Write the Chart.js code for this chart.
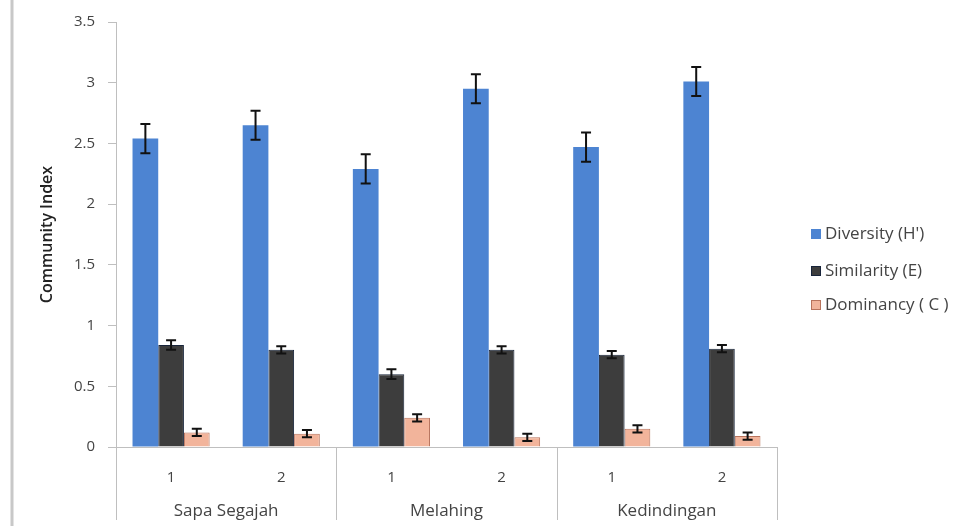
<!DOCTYPE html>
<html lang="en">
  <head>
    <meta charset="UTF-8" />
    <title>Community Index</title>
    <style>
      * {
        margin: 0;
        padding: 0;
      }
      body {
        background: white;
      }
      .chartBox {
        width: 956px;
        height: 526px;
      }
    </style>
  </head>
  <body>
    <div class="chartBox">
      <canvas id="myChart" width="956" height="526"></canvas>
    </div>

    <script src="https://cdn.jsdelivr.net/npm/chart.js"></script>
    <script>
      const sites = ["1", "2", "1", "2", "1", "2"];
      const groups = ["Sapa Segajah", "Melahing", "Kedindingan"];
      const diversity = [2.54, 2.65, 2.29, 2.95, 2.47, 3.01];
      const diversityErr = [0.12, 0.12, 0.12, 0.12, 0.12, 0.12];
      const similarity = [0.84, 0.8, 0.6, 0.8, 0.76, 0.81];
      const similarityErr = [0.04, 0.03, 0.04, 0.03, 0.03, 0.03];
      const dominancy = [0.12, 0.11, 0.24, 0.08, 0.15, 0.09];
      const dominancyErr = [0.03, 0.03, 0.03, 0.03, 0.03, 0.03];
      const yTicks = [0, 0.5, 1, 1.5, 2, 2.5, 3, 3.5];

      const font = "'Open Sans', sans-serif";
      const textColor = "#444";
      const lineColor = "#bfbfbf";

      // error bars, group labels, frame and legend
      const extras = {
        id: "extras",
        beforeDraw(chart) {
          const ctx = chart.ctx;
          ctx.save();
          ctx.strokeStyle = "#c8c8c8";
          ctx.lineWidth = 3;
          ctx.beginPath();
          ctx.moveTo(12, 0);
          ctx.lineTo(12, chart.height);
          ctx.stroke();
          ctx.restore();
        },
        afterDatasetsDraw(chart) {
          const ctx = chart.ctx;
          const y = chart.scales.y;
          ctx.save();
          ctx.strokeStyle = "#111";
          ctx.lineWidth = 2;
          chart.data.datasets.forEach((ds, i) => {
            const meta = chart.getDatasetMeta(i);
            meta.data.forEach((bar, j) => {
              const v = ds.data[j];
              const e = ds.errors[j];
              const top = y.getPixelForValue(v + e);
              const bot = y.getPixelForValue(v - e);
              ctx.beginPath();
              ctx.moveTo(bar.x, top);
              ctx.lineTo(bar.x, bot);
              ctx.moveTo(bar.x - 5, top);
              ctx.lineTo(bar.x + 5, top);
              ctx.moveTo(bar.x - 5, bot);
              ctx.lineTo(bar.x + 5, bot);
              ctx.stroke();
            });
          });
          ctx.restore();
        },
        afterDraw(chart) {
          const ctx = chart.ctx;
          const x = chart.scales.x;
          const area = chart.chartArea;
          const step = x.getPixelForValue(1) - x.getPixelForValue(0);
          ctx.save();
          ctx.strokeStyle = lineColor;
          ctx.lineWidth = 1;
          for (let g = 0; g <= groups.length; g++) {
            const px = Math.round(x.getPixelForValue(g * 2) - step / 2) + 0.5;
            ctx.beginPath();
            ctx.moveTo(px, area.bottom);
            ctx.lineTo(px, chart.height - 6);
            ctx.stroke();
          }
          ctx.fillStyle = textColor;
          ctx.font = "17px " + font;
          ctx.textAlign = "center";
          ctx.textBaseline = "middle";
          groups.forEach((name, g) => {
            const px = x.getPixelForValue(g * 2) + step / 2;
            ctx.fillText(name, px, 511);
          });

          // legend
          ctx.textAlign = "left";
          ctx.font = "17px " + font;
          const rows = [234, 271, 305];
          chart.data.datasets.forEach((ds, i) => {
            ctx.fillStyle = ds.backgroundColor;
            ctx.fillRect(811, rows[i] - 5, 10, 10);
            ctx.strokeStyle = ds.borderColor;
            ctx.lineWidth = 1;
            ctx.strokeRect(811.5, rows[i] - 4.5, 9, 9);
            ctx.fillStyle = textColor;
            ctx.fillText(ds.label, 825, rows[i]);
          });
          ctx.restore();
        },
      };

      const ctx = document.getElementById("myChart");
      const myChart = new Chart(ctx, {
        type: "bar",
        data: {
          labels: sites,
          datasets: [
            {
              label: "Diversity (H')",
              data: diversity,
              errors: diversityErr,
              backgroundColor: "#4d84d2",
              borderColor: "#4d84d2",
              borderWidth: 0,
            },
            {
              label: "Similarity (E)",
              data: similarity,
              errors: similarityErr,
              backgroundColor: "#3d3d3d",
              borderColor: "#18243a",
              borderWidth: 1,
            },
            {
              label: "Dominancy ( C )",
              data: dominancy,
              errors: dominancyErr,
              backgroundColor: "#f2b49b",
              borderColor: "#b8735c",
              borderWidth: 1,
            },
          ],
        },
        plugins: [extras],
        options: {
          responsive: false,
          animation: false,
          layout: {
            padding: { left: 38, right: 179, top: 20, bottom: 0 },
          },
          datasets: {
            bar: { categoryPercentage: 0.7, barPercentage: 1.0 },
          },
          plugins: {
            legend: { display: false },
            tooltip: { enabled: false },
          },
          scales: {
            x: {
              grid: { display: false },
              border: { color: lineColor },
              ticks: {
                color: textColor,
                font: { family: font, size: 15 },
                padding: 14,
                maxRotation: 0,
              },
              afterFit(scale) {
                scale.height = 79;
              },
            },
            y: {
              min: 0,
              max: 3.5,
              afterBuildTicks(scale) {
                scale.ticks = yTicks.map((v) => ({ value: v }));
              },
              grid: {
                drawOnChartArea: false,
                drawTicks: true,
                tickLength: 8,
                color: lineColor,
              },
              border: { color: lineColor },
              ticks: {
                color: textColor,
                font: { family: font, size: 15 },
                padding: 13,
                callback: (v) => String(v),
              },
              title: {
                display: true,
                text: "Community Index",
                color: "#222",
                font: { family: font, size: 16, weight: "600" },
                padding: { top: 0, bottom: 0 },
              },
              afterFit(scale) {
                scale.width = 78;
              },
            },
          },
        },
      });
    </script>
  </body>
</html>
